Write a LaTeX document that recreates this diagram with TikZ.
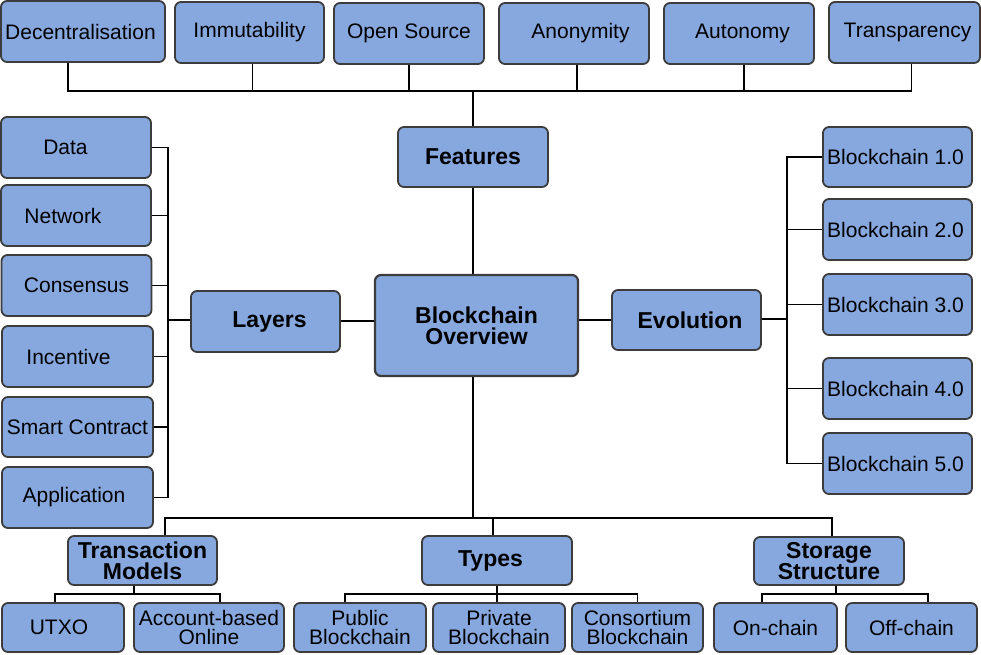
\documentclass[tikz,border=0pt]{standalone}
\usepackage{fontspec}
\setmainfont{Liberation Sans}
\definecolor{boxfill}{HTML}{86A8DE}
\definecolor{boxline}{HTML}{3C3C3C}
\begin{document}
\begin{tikzpicture}[x=1pt,y=-1pt,
  box/.style={draw=boxline, fill=boxfill, line width=1.8pt, rounded corners=6pt,
    inner sep=0pt, align=center, font=\fontsize{21}{19}\selectfont},
  bbox/.style={box, font=\bfseries\fontsize{23}{21}\selectfont},
  conn/.style={line width=1.8pt, draw=black}]
\useasboundingbox (0,0) rectangle (981,654);
% top features row
\node[box, minimum width=164, minimum height=61] (dec) at (83,31.5) {\hspace*{-5pt}Decentralisation};
\node[box, minimum width=149, minimum height=61] (imm) at (249.5,32.5) {Immutability};
\node[box, minimum width=150, minimum height=61] (ops) at (409,33.5) {Open Source};
\node[box, minimum width=150, minimum height=61] (ano) at (574,33.5) {\hspace*{13pt}Anonymity};
\node[box, minimum width=150, minimum height=61] (aut) at (739,33.5) {\hspace*{7pt}Autonomy};
\node[box, minimum width=151, minimum height=61] (tra) at (904.5,32.5) {\hspace*{6pt}Transparency};
% main nodes
\node[bbox, minimum width=150, minimum height=60] (fea) at (473,157) {Features};
\node[bbox, minimum width=203, minimum height=101, line width=2.2pt] (ctr) at (476.5,325.5) {Blockchain\\Overview};
\node[bbox, minimum width=149, minimum height=61] (lay) at (265.5,321.5) {\hspace*{8pt}Layers};
\node[bbox, minimum width=149, minimum height=60] (evo) at (686.5,320) {\hspace*{7pt}Evolution};
% layers list
\node[box, minimum width=150, minimum height=61] (l1) at (76,147.5) {\hspace*{-21pt}Data};
\node[box, minimum width=150, minimum height=61] (l2) at (76,215.5) {\hspace*{-26pt}Network};
\node[box, minimum width=150, minimum height=61] (l3) at (76.5,285.5) {Consensus};
\node[box, minimum width=151, minimum height=61] (l4) at (77.5,356.5) {\hspace*{-18pt}Incentive};
\node[box, minimum width=151, minimum height=60] (l5) at (77.5,427) {Smart Contract};
\node[box, minimum width=151, minimum height=61] (l6) at (77.5,497.5) {\hspace*{-7pt}Application};
% evolution list
\node[box, minimum width=149, minimum height=60] (e1) at (897.5,157) {\hspace*{-4pt}Blockchain 1.0};
\node[box, minimum width=149, minimum height=61] (e2) at (897.5,229.5) {\hspace*{-4pt}Blockchain 2.0};
\node[box, minimum width=149, minimum height=61] (e3) at (897.5,304.5) {\hspace*{-4pt}Blockchain 3.0};
\node[box, minimum width=149, minimum height=61] (e4) at (897.5,388.5) {\hspace*{-4pt}Blockchain 4.0};
\node[box, minimum width=149, minimum height=61] (e5) at (897.5,463.5) {\hspace*{-4pt}Blockchain 5.0};
% bottom parents
\node[bbox, minimum width=149, minimum height=49] (tm) at (142.5,560.5) {Transaction\\Models};
\node[bbox, minimum width=150, minimum height=49] (ty) at (497,560.5) {\hspace*{-13pt}Types};
\node[bbox, minimum width=150, minimum height=48] (ss) at (829,561) {Storage\\Structure};
% bottom children
\node[box, minimum width=122, minimum height=49] (utxo) at (63,627.5) {\hspace*{-8pt}UTXO};
\node[box, minimum width=150, minimum height=49] (acc) at (209,627.5) {Account-based\\Online};
\node[box, minimum width=132, minimum height=49] (pub) at (360,627.5) {Public\\Blockchain};
\node[box, minimum width=132, minimum height=49] (pri) at (499,627.5) {Private\\Blockchain};
\node[box, minimum width=131, minimum height=49] (con) at (637.5,627.5) {Consortium\\Blockchain};
\node[box, minimum width=123, minimum height=49] (onc) at (775.5,627.5) {On-chain};
\node[box, minimum width=131, minimum height=49] (ofc) at (911.5,627.5) {Off-chain};
% junction coordinates
\coordinate (tb) at (0,91);
\coordinate (ls) at (168,0);
\coordinate (rs) at (787,0);
\coordinate (bb) at (0,518);
\coordinate (tmj) at (165,518);
\coordinate (tyj) at (493,518);
\coordinate (ssj) at (832,518);
\coordinate (tmb) at (0,594);
% features connectors
\draw[conn] ([xshift=-15pt]dec.south) -- ([xshift=-15pt]dec.south |- tb) -- ([xshift=7pt]tra.south |- tb) -- ([xshift=7pt]tra.south);
\draw[conn] ([xshift=3pt]imm.south) -- ([xshift=3pt]imm.south |- tb);
\draw[conn] (ops.south) -- (ops.south |- tb);
\draw[conn] ([xshift=3pt]ano.south) -- ([xshift=3pt]ano.south |- tb);
\draw[conn] ([xshift=5pt]aut.south) -- ([xshift=5pt]aut.south |- tb);
\draw[conn] (fea.north) -- (fea.north |- tb);
\draw[conn] (fea.south) -- (fea.south |- ctr.north);
% layers
\draw[conn] (lay.east |- 0,321) -- (ctr.west |- 0,321);
\draw[conn] (l1.east) -- (l1.east -| ls) -- (l6.east -| ls) -- (l6.east);
\foreach \n in {l2,l3,l4,l5} {\draw[conn] (\n.east) -- (\n.east -| ls);}
\draw[conn] (lay.west |- 0,320) -- (ls |- 0,320);
% evolution
\draw[conn] (ctr.east |- 0,320) -- (evo.west |- 0,320);
\draw[conn] (e1.west) -- (e1.west -| rs) -- (e5.west -| rs) -- (e5.west);
\foreach \n in {e2,e3,e4} {\draw[conn] (\n.west) -- (\n.west -| rs);}
\draw[conn] (evo.east |- 0,319) -- (rs |- 0,319);
% bottom
\draw[conn] (ctr.south -| fea.south) -- (fea.south |- bb);
\draw[conn] (tm.north -| tmj) -- (tmj) -- (ssj) -- (ss.north -| ssj);
\draw[conn] (tyj) -- (ty.north -| tyj);
% sub-level
\draw[conn] ([xshift=-8.5pt]tm.south) -- ([xshift=-8.5pt]tm.south |- tmb);
\draw[conn] ([xshift=-8pt]utxo.north) -- ([xshift=-8pt]utxo.north |- tmb) -- ([xshift=11pt]acc.north |- tmb) -- ([xshift=11pt]acc.north);
\draw[conn] (ty.south) -- (pri.north -| ty.south);
\draw[conn] ([xshift=-15pt]pub.north) -- ([xshift=-15pt]pub.north |- tmb) -- (con.north |- tmb) -- (con.north);
\draw[conn] ([xshift=7pt]ss.south) -- ([xshift=7pt]ss.south |- tmb);
\draw[conn] ([xshift=-13.5pt]onc.north) -- ([xshift=-13.5pt]onc.north |- tmb) -- ([xshift=16.5pt]ofc.north |- tmb) -- ([xshift=16.5pt]ofc.north);
\end{tikzpicture}
\end{document}
